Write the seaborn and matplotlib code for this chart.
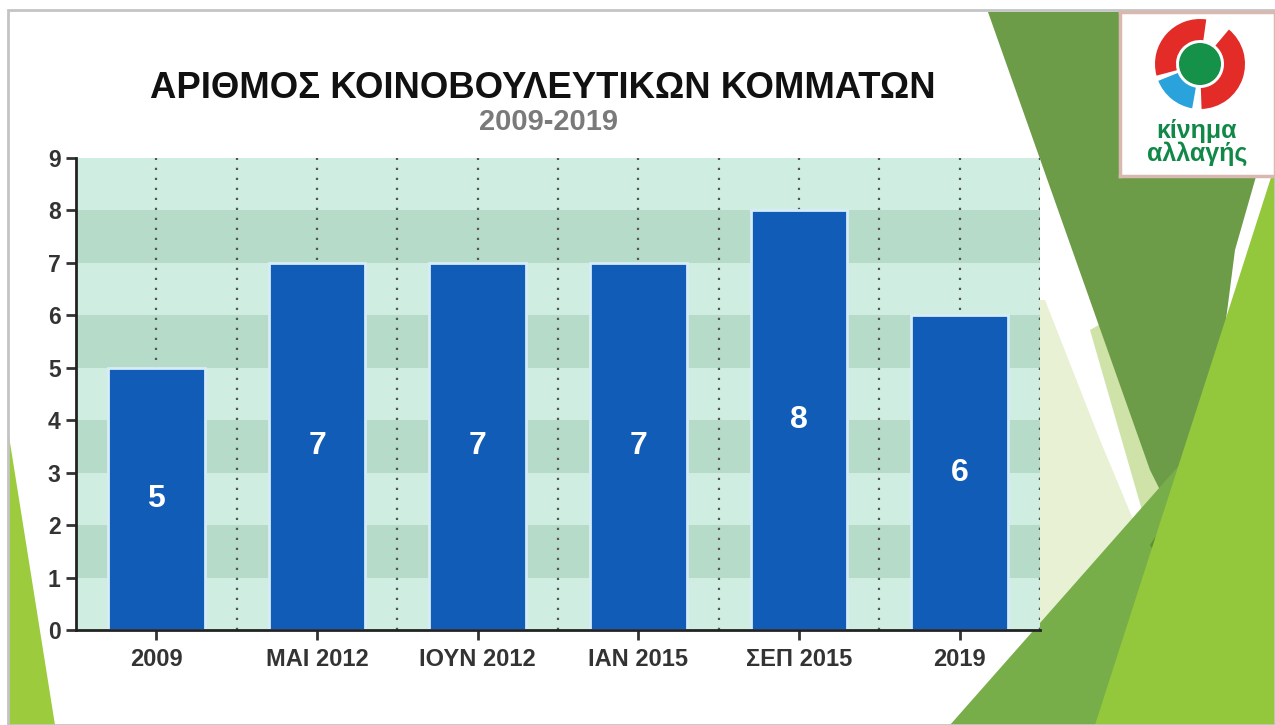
import pandas as pd
import numpy as np
import matplotlib
matplotlib.use("Agg")
import matplotlib.pyplot as plt
from matplotlib.patches import Polygon, Rectangle, Wedge, Circle
import seaborn as sns

# data
periods = ['2009', 'ΜΑΙ 2012', 'ΙΟΥΝ 2012', 'ΙΑΝ 2015', 'ΣΕΠ 2015', '2019']
parties = [5, 7, 7, 7, 8, 6]
title = 'ΑΡΙΘΜΟΣ ΚΟΙΝΟΒΟΥΛΕΥΤΙΚΩΝ ΚΟΜΜΑΤΩΝ'
subtitle = '2009-2019'

df = pd.DataFrame({'period': periods, 'parties': parties})

sns.set_style('ticks')
plt.rcParams['font.family'] = ['Liberation Sans', 'DejaVu Sans']

W, H = 1275, 725
fig = plt.figure(figsize=(W / 100, H / 100), dpi=100)
fig.patch.set_facecolor('white')


def px(x, y):
    # pixel coords (top-left origin) -> figure fraction
    return (x / W, 1 - y / H)


def poly(points, color, z=-5, alpha=1.0):
    p = Polygon([px(x, y) for x, y in points], closed=True, transform=fig.transFigure,
                facecolor=color, edgecolor='none', zorder=z, alpha=alpha)
    fig.patches.append(p)


# background decoration shapes
poly([(1045, 300), (1100, 440), (1150, 560), (1010, 725), (1040, 725), (1040, 300)], '#e8f1d3', z=-9)
poly([(988, 12), (1275, 12), (1275, 110), (1235, 250), (1195, 560), (1150, 470)], '#6d9c48', z=-8)
poly([(1090, 330), (1125, 310), (1190, 540), (1165, 590)], '#cfe3a8', z=-8.5)
poly([(950, 725), (1175, 470), (1275, 380), (1275, 725)], '#78ae4a', z=-7)
poly([(1095, 725), (1235, 290), (1275, 165), (1275, 725)], '#93c83c', z=-6)
poly([(1150, 545), (1200, 470), (1182, 600)], '#5a9130', z=-6.5)
poly([(8, 430), (8, 725), (55, 725)], '#9ccb3e', z=-6)

# outer frame
frame = Rectangle(px(8, 725), (W - 8) / W, (725 - 10) / H, transform=fig.transFigure,
                  facecolor='none', edgecolor='#c4c4c4', linewidth=2, zorder=-4)
fig.patches.append(frame)

# main axes
l, b = px(76, 630)
r, t = px(1040, 158)
ax = fig.add_axes([l, b, r - l, t - b])
ax.set_facecolor('#cfeee1')
for y0 in [1, 3, 5, 7]:
    ax.axhspan(y0, y0 + 1, color='#b6dbc9', zorder=0, linewidth=0)
for xg in np.arange(0, len(periods), 0.5):
    ax.axvline(xg, color='#555555', linestyle=(0, (1, 3.5)), linewidth=1.6, zorder=0.5)
ax.axvline(len(periods) - 0.5, color='#555555', linestyle=(0, (1, 3.5)), linewidth=1.6, zorder=0.5)

sns.barplot(data=df, x='period', y='parties', color='#105cb6', width=0.6,
            edgecolor='#d6ecf8', linewidth=2, saturation=1, ax=ax, zorder=2)

for i, v in enumerate(parties):
    ax.text(i, v / 2, str(v), ha='center', va='center', color='white',
            fontsize=23, fontweight='bold', zorder=3)

ax.set_xlim(-0.5, len(periods) - 0.5)
ax.set_ylim(0, 9)
ax.set_yticks(range(0, 10))
ax.set_xlabel('')
ax.set_ylabel('')
ax.grid(False)
sns.despine(ax=ax)
for s in ['left', 'bottom']:
    ax.spines[s].set_linewidth(2)
    ax.spines[s].set_color('#222222')
ax.tick_params(axis='both', length=7, width=2, color='#333333', labelcolor='#333333',
               labelsize=16.5)
ax.tick_params(axis='y', pad=4)
ax.tick_params(axis='x', pad=6, labelsize=17)
for lab in ax.get_xticklabels() + ax.get_yticklabels():
    lab.set_fontweight('bold')

# titles
fig.text(*px(543, 88), title, ha='center', va='center', fontsize=26.3,
         fontweight='bold', color='#111111')
fig.text(*px(548, 122), subtitle, ha='center', va='center', fontsize=21,
         fontweight='bold', color='#7a7a7a')

# logo box
lx0, ly0, lx1, ly1 = 1120, 12, 1275, 176
logo = fig.add_axes([lx0 / W, 1 - ly1 / H, (lx1 - lx0) / W, (ly1 - ly0) / H])
logo.set_xlim(lx0, lx1)
logo.set_ylim(ly1, ly0)
logo.set_facecolor('white')
for s in logo.spines.values():
    s.set_color('#d9b8b0')
    s.set_linewidth(2.5)
logo.set_xticks([])
logo.set_yticks([])
cx, cy = 1200, 64
# y axis is inverted here, so angles run clockwise on screen
for th1, th2, c in [(165, 278, '#e32b27'), (-50, 88, '#e32b27'), (100, 158, '#2aa3dc')]:
    logo.add_patch(Wedge((cx, cy), 45, th1, th2, width=21, facecolor=c, edgecolor='none'))
logo.add_patch(Circle((cx, cy), 21, facecolor='#15914a', edgecolor='none'))
logo.text(1197, 131, 'κίνημα', ha='center', va='center', fontsize=18,
          fontweight='bold', color='#128848')
logo.text(1197, 154, 'αλλαγής', ha='center', va='center', fontsize=18,
          fontweight='bold', color='#128848')

fig.savefig('out.png', dpi=100)
